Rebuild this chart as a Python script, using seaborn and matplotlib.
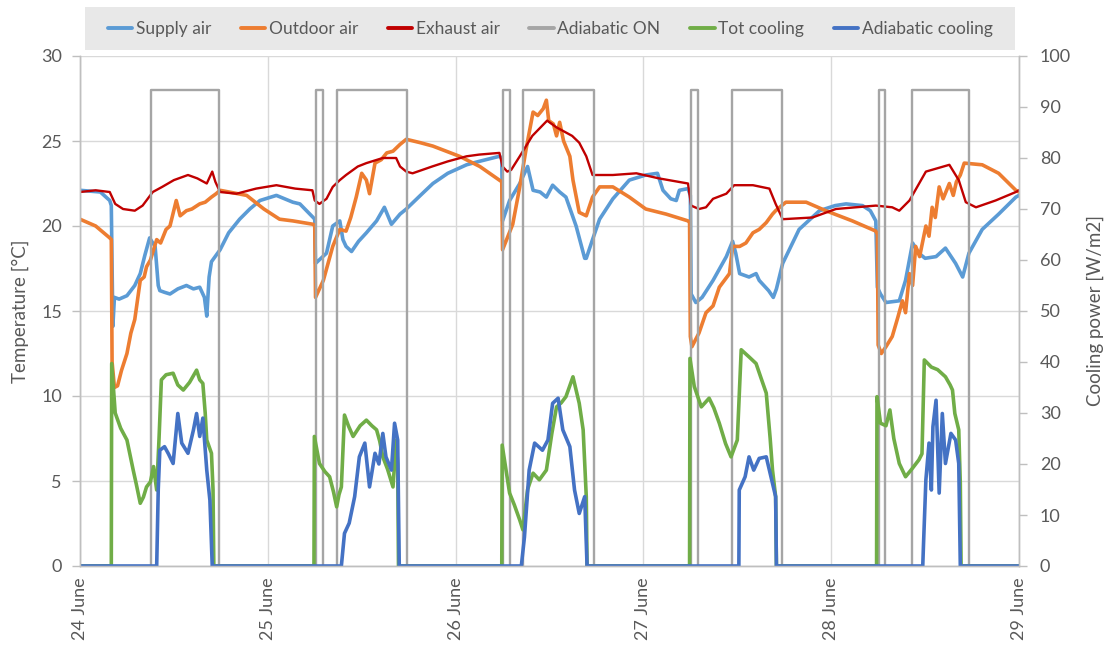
import numpy as np
import pandas as pd
import matplotlib
matplotlib.use("Agg")
import matplotlib.pyplot as plt
from matplotlib.patches import Rectangle
from matplotlib.lines import Line2D
import seaborn as sns

# ---------------------------------------------------------------------------
# Data (time in hours from 24 June 00:00)
# ---------------------------------------------------------------------------
day_labels = ["24 June", "25 June", "26 June", "27 June", "28 June", "29 June"]
day_hours = [0, 24, 48, 72, 96, 120]

supply_t = [0, 2.6, 3.8, 4.0, 4.2, 4.4, 5.0, 6.0, 7.0, 7.7, 8.3, 8.9, 9.3, 9.6, 10.0, 10.2,
            10.8, 11.5, 12.5, 13.6, 14.5, 15.3, 15.9, 16.2, 16.5, 16.8, 17.9, 19.0, 20.4,
            21.7, 23.0, 25.1, 27.2, 28.1, 29.8, 30.0, 30.1, 31.5, 32.3, 33.2, 33.6, 34.0,
            34.7, 35.6, 36.6, 37.9, 38.9, 39.8, 40.9, 41.7, 43.5, 45.1, 47.0, 49.4, 51.0,
            53.6, 53.9, 54.0, 54.9, 56.2, 57.2, 57.9, 58.8, 59.6, 60.4, 61.3, 62.1, 63.4,
            64.5, 64.7, 65.5, 66.4, 68.1, 70.2, 72.3, 73.8, 74.5, 75.5, 76.2, 76.6, 77.7,
            78.0, 78.1, 78.7, 79.5, 80.9, 82.6, 83.4, 83.8, 84.3, 85.5, 86.4, 86.8, 88.0,
            88.6, 89.0, 89.8, 91.9, 94.5, 96.5, 97.9, 100.0, 101.0, 101.7, 101.9, 102.3,
            103.0, 104.7, 105.5, 106.4, 107.2, 108.0, 109.4, 110.6, 111.9, 112.8, 113.6,
            115.3, 117.4, 119.6, 120.0]
supply_v = [22.1, 22.0, 21.5, 21.2, 14.1, 15.8, 15.7, 15.9, 16.5, 17.2, 18.3, 19.3, 19.0, 18.8,
            16.5, 16.2, 16.1, 16.0, 16.3, 16.5, 16.3, 16.4, 15.8, 14.7, 17.0, 17.9, 18.6,
            19.6, 20.4, 21.0, 21.5, 21.8, 21.4, 21.3, 20.5, 20.4, 17.8, 18.4, 20.0, 20.3,
            19.2, 18.8, 18.5, 19.1, 19.6, 20.3, 21.1, 20.1, 20.7, 21.0, 21.8, 22.5, 23.1,
            23.6, 23.8, 24.1, 24.0, 20.3, 21.5, 22.5, 23.5, 22.1, 22.0, 21.7, 22.4, 22.0,
            21.7, 20.0, 18.1, 18.1, 19.2, 20.4, 21.6, 22.7, 23.0, 23.1, 22.1, 21.6, 21.5,
            22.1, 22.2, 21.8, 16.0, 15.5, 15.8, 16.8, 18.2, 19.1, 18.4, 17.2, 17.0, 17.2,
            16.8, 16.2, 15.8, 16.3, 17.8, 19.8, 20.9, 21.2, 21.3, 21.2, 20.9, 20.3, 16.4,
            16.0, 15.5, 15.6, 16.8, 19.0, 18.4, 18.1, 18.2, 18.7, 17.8, 17.0, 18.4, 19.8,
            20.7, 21.7, 21.8]

outdoor_t = [0, 2.0, 3.8, 4.0, 4.1, 4.4, 4.8, 5.3, 6.0, 6.5, 7.0, 7.7, 8.2, 8.5, 9.0, 9.8,
             10.3, 11.0, 11.5, 12.3, 12.8, 13.6, 14.3, 15.3, 16.0, 16.8, 17.4, 17.9, 21.3,
             23.5, 25.5, 27.2, 29.8, 30.0, 30.1, 31.1, 32.3, 33.2, 34.0, 34.6, 35.3, 36.0,
             36.6, 37.0, 37.7, 38.5, 39.2, 40.0, 40.9, 41.7, 43.5, 45.1, 46.8, 48.5, 51.1,
             53.6, 53.9, 54.0, 55.3, 56.2, 57.0, 57.9, 58.5, 59.2, 59.6, 59.9, 60.5, 60.9,
             61.3, 61.8, 62.6, 63.0, 63.8, 64.7, 65.5, 66.4, 68.1, 70.2, 72.3, 74.9, 77.7,
             77.9, 78.0, 78.2, 79.1, 80.0, 80.9, 81.7, 83.0, 83.4, 84.3, 85.1, 86.0, 86.8,
             87.7, 88.5, 88.9, 90.2, 92.8, 95.3, 98.7, 101.7, 101.9, 102.0, 102.4, 103.0,
             103.8, 104.5, 105.1, 105.5, 106.0, 106.4, 106.8, 107.3, 108.1, 108.5, 108.9,
             109.3, 109.8, 110.3, 111.1, 111.6, 112.0, 112.5, 113.0, 115.3, 117.4, 119.6,
             120.0]
outdoor_v = [20.4, 20.0, 19.3, 19.2, 12.0, 10.5, 10.6, 11.5, 12.5, 13.7, 14.5, 16.8, 17.0,
             17.6, 18.0, 19.2, 19.0, 19.8, 20.0, 21.5, 20.6, 20.9, 21.0, 21.3, 21.4, 21.7,
             21.9, 22.1, 21.8, 21.0, 20.4, 20.3, 20.1, 20.0, 15.8, 16.8, 18.8, 19.8, 19.7,
             20.5, 21.7, 23.1, 22.7, 21.9, 23.7, 23.9, 24.3, 24.4, 24.8, 25.1, 24.9, 24.7,
             24.4, 24.1, 23.5, 22.7, 22.6, 18.6, 20.1, 22.3, 24.5, 26.7, 26.5, 26.9, 27.4,
             26.2, 26.0, 25.3, 26.1, 25.0, 24.1, 22.7, 20.8, 20.6, 21.7, 22.3, 22.3, 21.7,
             21.0, 20.7, 20.3, 20.2, 13.5, 12.9, 13.7, 14.9, 15.3, 16.4, 17.2, 18.8, 18.8,
             19.0, 19.6, 19.8, 20.2, 20.7, 20.9, 21.4, 21.4, 20.9, 20.3, 19.7, 19.5, 13.0,
             12.5, 12.9, 13.5, 14.6, 15.6, 14.9, 17.2, 16.5, 18.8, 18.2, 20.0, 19.4, 21.1,
             20.5, 22.3, 21.6, 22.5, 21.8, 22.6, 23.0, 23.7, 23.6, 23.1, 22.1, 22.0]

exhaust_t = [0, 2.0, 3.8, 4.5, 5.5, 7.0, 8.0, 9.3, 10.5, 12.0, 13.8, 15.0, 16.2, 16.9, 17.3,
             17.9, 20.0, 22.5, 25.1, 27.5, 29.7, 30.0, 30.6, 31.5, 32.3, 33.2, 34.0, 35.5,
             36.6, 38.7, 40.4, 40.9, 41.7, 42.5, 45.0, 47.0, 49.4, 51.0, 53.6, 54.0, 54.6,
             55.1, 56.2, 57.8, 59.7, 60.9, 62.9, 63.8, 64.7, 65.5, 68.1, 71.1, 74.0, 77.7,
             78.1, 79.1, 80.0, 80.9, 82.6, 83.6, 86.0, 88.1, 88.9, 89.8, 93.6, 96.6, 101.7,
             103.8, 104.7, 106.0, 108.1, 111.1, 112.3, 113.2, 114.5, 117.0, 119.6, 120.0]
exhaust_v = [22.0, 22.1, 22.0, 21.3, 21.0, 20.9, 21.2, 22.0, 22.3, 22.7, 23.0, 22.8, 22.5,
             23.2, 22.6, 22.0, 21.9, 22.2, 22.4, 22.2, 22.1, 21.5, 21.3, 21.6, 22.3, 22.7,
             23.0, 23.5, 23.7, 24.0, 24.0, 23.5, 23.2, 23.1, 23.5, 23.8, 24.1, 24.2, 24.3,
             23.5, 23.2, 23.3, 24.1, 25.3, 26.2, 25.8, 25.3, 24.9, 24.1, 23.0, 23.0, 23.1,
             22.8, 22.5, 21.2, 21.0, 21.1, 21.6, 21.9, 22.4, 22.4, 22.2, 21.3, 20.4, 20.5,
             21.0, 21.2, 21.1, 20.9, 21.5, 23.2, 23.6, 22.7, 21.4, 21.1, 21.5, 22.0, 22.1]

# Adiabatic mode switched on (start, end) in hours; drawn at level 28 on the temperature axis
adiabatic_on_start = [9.1, 30.1, 32.85, 54.1, 56.6, 78.1, 83.3, 102.1, 106.3]
adiabatic_on_end = [17.8, 31.05, 41.8, 55.0, 65.7, 79.0, 89.7, 102.9, 113.6]
adiabatic_on_level = 28

tot_cool_t = [0, 4.0, 4.05, 4.5, 5.2, 6.0, 6.8, 7.2, 7.7, 8.1, 8.5, 9.0, 9.4, 9.8, 10.1,
              10.4, 11.0, 11.9, 12.5, 13.2, 14.0, 14.9, 15.3, 15.7, 16.0, 16.2, 16.8, 17.0,
              17.1, 29.9, 29.95, 30.6, 31.3, 31.9, 32.4, 32.8, 33.1, 33.4, 33.8, 34.3, 34.9,
              35.8, 36.6, 37.3, 37.9, 38.3, 38.7, 39.3, 40.0, 40.4, 40.6, 40.7, 53.9, 53.95,
              54.9, 55.5, 56.2, 56.6, 57.2, 57.9, 58.7, 59.6, 60.3, 60.9, 61.5, 62.1, 63.0,
              63.8, 64.3, 64.7, 64.8, 77.9, 77.95, 78.5, 79.4, 80.4, 81.0, 81.7, 82.5, 83.2,
              84.0, 84.5, 85.5, 86.4, 87.0, 87.7, 88.2, 88.5, 88.9, 89.0, 101.8, 101.85,
              102.3, 103.0, 103.5, 104.0, 104.7, 105.5, 106.3, 107.2, 107.6, 107.9, 108.8,
              109.6, 110.6, 111.2, 111.5, 111.8, 112.3, 112.5, 112.6, 120.0]
tot_cool_v = [0, 0, 39.7, 30.0, 27.0, 24.7, 18.8, 16.0, 12.3, 13.5, 15.5, 16.5, 19.5, 14.9,
              25.0, 36.5, 37.5, 37.8, 35.5, 34.5, 36.0, 38.4, 36.5, 35.8, 30.0, 24.7, 22.1,
              15.0, 0, 0, 25.4, 20.1, 18.5, 17.5, 14.5, 11.6, 14.0, 15.5, 29.6, 27.5, 25.4,
              27.5, 28.6, 27.5, 26.7, 24.5, 21.4, 19.0, 15.5, 24.7, 20.0, 0, 0, 23.7, 14.3,
              12.0, 9.0, 7.1, 15.0, 18.2, 16.9, 18.8, 26.0, 31.2, 32.0, 33.2, 37.1, 31.9,
              26.7, 13.6, 0, 0, 40.7, 35.2, 31.2, 32.9, 31.0, 28.0, 24.0, 21.4, 24.7, 42.4,
              41.0, 39.7, 37.0, 33.9, 25.0, 18.8, 13.6, 0, 0, 33.2, 28.0, 27.5, 30.6, 25.0,
              20.1, 17.5, 19.0, 20.8, 22.0, 40.4, 39.0, 38.5, 37.1, 35.5, 34.5, 29.9, 26.7,
              16.2, 0, 0]

adiab_cool_t = [0, 9.8, 10.0, 10.2, 10.8, 11.3, 11.9, 12.5, 13.0, 13.8, 14.5, 14.9, 15.3,
                15.7, 16.2, 16.6, 16.9, 33.4, 33.8, 34.4, 35.1, 35.7, 36.4, 37.0, 37.7, 38.2,
                38.7, 39.1, 39.8, 40.2, 40.6, 40.8, 56.4, 56.8, 57.4, 58.1, 59.1, 59.8, 60.4,
                61.1, 61.7, 62.6, 63.2, 63.8, 64.5, 64.8, 84.2, 84.25, 85.0, 85.5, 86.1, 86.8,
                87.7, 88.5, 88.9, 89.0, 107.7, 107.8, 108.1, 108.5, 108.8, 109.0, 109.4, 109.8,
                110.2, 110.6, 111.3, 111.9, 112.3, 112.5, 120.0]
adiab_cool_v = [0, 0, 15.0, 22.7, 23.4, 22.0, 20.1, 29.9, 24.1, 22.1, 26.7, 29.9, 25.4, 29.0,
                18.8, 12.9, 0, 0, 6.4, 8.4, 13.6, 21.4, 24.1, 15.5, 22.1, 20.0, 26.0, 21.4,
                18.8, 28.0, 24.7, 0, 0, 5.7, 18.8, 24.1, 22.7, 24.7, 31.9, 32.9, 26.7, 23.4,
                14.9, 10.3, 13.6, 0, 0, 14.9, 17.5, 21.4, 18.8, 21.1, 21.4, 16.2, 13.6, 0, 0,
                4.4, 16.9, 24.1, 14.9, 27.3, 32.5, 14.3, 29.9, 20.1, 26.0, 24.7, 20.1, 0, 0]

# Step signal for adiabatic mode built from the on/off times
on_t, on_v = [0.0], [0]
for s, e in zip(adiabatic_on_start, adiabatic_on_end):
    on_t += [s, s, e, e]
    on_v += [0, adiabatic_on_level, adiabatic_on_level, 0]
on_t.append(120.0)
on_v.append(0)

# ---------------------------------------------------------------------------
# Styling
# ---------------------------------------------------------------------------
sns.set_theme(style="white")
plt.rcParams['font.family'] = ['Lato', 'DejaVu Sans']
text_col = "#595959"
grid_col = "#D9D9D9"
axis_col = "#BFBFBF"

colors = {
    "Supply air": "#5B9BD5",
    "Outdoor air": "#ED7D31",
    "Exhaust air": "#C00000",
    "Adiabatic ON": "#A5A5A5",
    "Tot cooling": "#70AD47",
    "Adiabatic cooling": "#4472C4",
}
widths = {
    "Supply air": 2.6,
    "Outdoor air": 2.6,
    "Exhaust air": 1.7,
    "Adiabatic ON": 1.7,
    "Tot cooling": 2.6,
    "Adiabatic cooling": 2.6,
}

fig = plt.figure(figsize=(11.08, 6.57), dpi=100)
ax = fig.add_axes([80 / 1108, 1 - 566 / 657, (1019 - 80) / 1108, (566 - 56) / 657])
ax2 = ax.twinx()

temp_series = [
    ("Supply air", supply_t, supply_v),
    ("Outdoor air", outdoor_t, outdoor_v),
    ("Exhaust air", exhaust_t, exhaust_v),
    ("Adiabatic ON", on_t, on_v),
]
power_series = [
    ("Tot cooling", tot_cool_t, tot_cool_v),
    ("Adiabatic cooling", adiab_cool_t, adiab_cool_v),
]

for name, t, v in temp_series:
    sns.lineplot(x=t, y=v, ax=ax, color=colors[name], linewidth=widths[name],
                 estimator=None, sort=False, legend=False)
for name, t, v in power_series:
    sns.lineplot(x=t, y=v, ax=ax2, color=colors[name], linewidth=widths[name],
                 estimator=None, sort=False, legend=False)

ax.set_xlim(0, 120)
ax.set_ylim(0, 30)
ax2.set_ylim(0, 100)
ax.set_yticks(np.arange(0, 31, 5))
ax2.set_yticks(np.arange(0, 101, 10))
ax.set_xticks(day_hours)
ax.set_xticklabels(day_labels, rotation=90, fontsize=13, color=text_col)
ax.tick_params(axis="y", labelsize=13, labelcolor=text_col, length=6, width=1,
               color=axis_col, direction="out", left=True, pad=7)
ax.tick_params(axis="x", length=0, pad=8)
ax2.tick_params(axis="y", labelsize=13, labelcolor=text_col, length=6, width=1,
                color=axis_col, direction="out", right=True, pad=9)

ax.set_ylabel("Temperature [°C]", fontsize=13.5, color=text_col, labelpad=9)
ax2.set_ylabel("Cooling power [W/m2]", fontsize=13.5, color=text_col, labelpad=11)
ax.set_xlabel("")

ax.grid(True, color=grid_col, linewidth=1.0)
ax.set_axisbelow(True)
for a in (ax, ax2):
    a.spines["top"].set_visible(False)
    for side in ("left", "right", "bottom"):
        a.spines[side].set_color(axis_col)
        a.spines[side].set_linewidth(1.0)

# Legend band across the top
fig.patches.append(Rectangle((85 / 1108, 1 - 50 / 657), 930 / 1108, 43 / 657,
                             transform=fig.transFigure, facecolor="#E8E8E8",
                             edgecolor="none", zorder=0))
handles = [Line2D([], [], color=colors[n], linewidth=2.8) for n in colors]
fig.legend(handles, list(colors.keys()), loc="center", ncol=6,
           bbox_to_anchor=(0.4965, 1 - 29 / 657), frameon=False, fontsize=12.5,
           handlelength=1.4, handletextpad=0.2, columnspacing=1.72,
           labelcolor=text_col)

fig.savefig("out.png", dpi=100)
